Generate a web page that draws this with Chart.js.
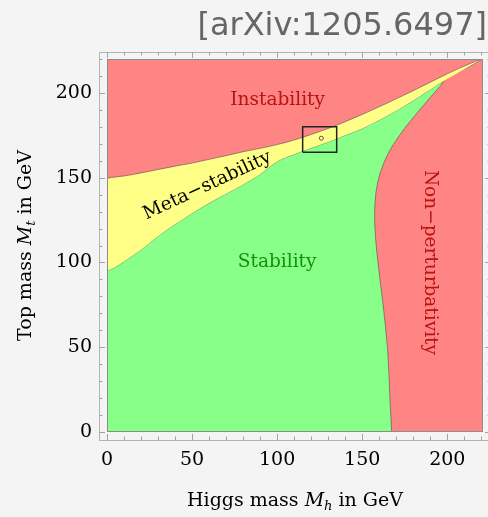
<!DOCTYPE html>
<html>
<head>
<meta charset="utf-8">
<script src="https://cdn.jsdelivr.net/npm/chart.js@4.4.1/dist/chart.umd.min.js"></script>
<style>
  body { margin: 0; background: #f4f4f4; }
  #wrap { width: 488px; height: 517px; position: relative; }
</style>
</head>
<body>
<div id="wrap"><canvas id="phase_chart"></canvas></div>
<script>
// Higgs mass grid shared by the two upper boundaries
var higgsMass = [0, 5, 10, 20, 30, 40, 50, 60, 70, 80, 90, 100, 110, 120, 130, 140, 150, 160, 170, 180, 190, 200, 205, 210, 215, 219, 221];
// instability / meta-stability boundary (top mass, GeV)
var topInstability = [149.7, 150.4, 151, 152.8, 154.8, 156.8, 158.6, 160.8, 163, 165.3, 167.3, 169.5, 172.2, 175.5, 179, 183, 187.3, 191.8, 196.5, 201.3, 206.3, 211.3, 213.6, 215.8, 218, 219.6, 220.3];
// meta-stability / stability boundary
var topStability = [95, 97.3, 100.5, 107.5, 115.5, 122.5, 129, 135, 140.5, 146, 152, 159.5, 163.8, 167.5, 171, 175, 179, 184, 189.5, 195.5, 202, 208.3, 211.2, 214, 216.9, 219.3, 220.3];

// non-perturbativity boundary, read as Higgs mass for a given top mass
var topNonPert = [0, 20, 48, 77.5, 107, 126.6, 146.7, 162.3, 175.1, 190, 203.7, 211.8, 214.2, 216.8, 220.3];
var higgsNonPert = [167.3, 166.3, 165, 162, 158.5, 157.3, 159, 164.3, 172, 183.8, 195.6, 203.2, 210, 215, 221];

// the experimental box and the measured point
var boxHiggs = [115, 135, 135, 115, 115];
var boxTop = [165, 165, 180, 180, 165];
var measuredHiggs = [126];
var measuredTop = [173.3];

var xTicks = [0, 50, 100, 150, 200];
var yTicks = [0, 50, 100, 150, 200];
var xMax = 221;
var yMax = 220;

var serif = '"DejaVu Serif", "Liberation Serif", serif';

function zipPoints(xs, ys) {
  var pts = [];
  for (var i = 0; i < xs.length; i++) {
    pts.push({x: xs[i], y: ys[i]});
  }
  return pts;
}

function drawParts(ctx, parts, x, y) {
  // parts centred on x, baseline y
  var total = 0;
  for (var i = 0; i < parts.length; i++) {
    ctx.font = parts[i].font;
    total += ctx.measureText(parts[i].text).width;
  }
  var cx = x - total / 2;
  ctx.textAlign = 'left';
  ctx.textBaseline = 'alphabetic';
  for (var j = 0; j < parts.length; j++) {
    ctx.font = parts[j].font;
    ctx.fillText(parts[j].text, cx, y + (parts[j].dy || 0));
    cx += ctx.measureText(parts[j].text).width;
  }
}

var decorPlugin = {
  id: 'decor',
  afterDatasetsDraw: function(chart) {
    var ctx = chart.ctx;
    var a = chart.chartArea;
    var xs = chart.scales.x;
    var ys = chart.scales.y;

    ctx.save();

    // region names
    var labels = [
      {text: 'Instability', x: 100.3, y: 196, rot: 0, color: '#b81414'},
      {text: 'Stability', x: 100, y: 100, rot: 0, color: '#0f920f'},
      {text: 'Meta\u2212stability', x: 59, y: 145.3, rot: -25, color: '#000'},
      {text: 'Non\u2212perturbativity', x: 189.7, y: 100, rot: 90, color: '#b81414'}
    ];
    ctx.font = '18.5px ' + serif;
    ctx.textAlign = 'center';
    ctx.textBaseline = 'middle';
    labels.forEach(function(l) {
      ctx.save();
      ctx.translate(xs.getPixelForValue(l.x), ys.getPixelForValue(l.y));
      ctx.rotate(l.rot * Math.PI / 180);
      ctx.fillStyle = l.color;
      ctx.fillText(l.text, 0, 0);
      ctx.restore();
    });

    // plot edge
    ctx.strokeStyle = '#8c8c8c';
    ctx.lineWidth = 1;
    ctx.strokeRect(a.left + 0.5, a.top + 0.5, a.width - 1, a.height - 1);

    // outer frame with ticks
    var fl = a.left - 8, ft = a.top - 7, fr = a.right + 8, fb = a.bottom + 8;
    ctx.strokeStyle = '#b4b4b4';
    ctx.strokeRect(fl + 0.5, ft + 0.5, fr - fl, fb - ft);
    ctx.strokeStyle = '#a2a2a2';
    ctx.beginPath();
    for (var v = 0; v <= 220; v += 10) {
      var len = v % 50 === 0 ? 6 : 3.5;
      var px = Math.round(xs.getPixelForValue(v)) + 0.5;
      ctx.moveTo(px, fb); ctx.lineTo(px, fb - len);
      ctx.moveTo(px, ft); ctx.lineTo(px, ft + len);
      var py = Math.round(ys.getPixelForValue(v)) + 0.5;
      ctx.moveTo(fl, py); ctx.lineTo(fl + len, py);
      ctx.moveTo(fr, py); ctx.lineTo(fr - len, py);
    }
    ctx.stroke();

    // axis titles
    ctx.fillStyle = '#000';
    drawParts(ctx, [
      {text: 'Higgs mass ', font: '19px ' + serif},
      {text: 'M', font: 'italic 19px ' + serif},
      {text: 'h', font: 'italic 13px ' + serif, dy: 4},
      {text: ' in GeV', font: '19px ' + serif}
    ], (a.left + a.right) / 2, 506);

    ctx.save();
    ctx.translate(31, (a.top + a.bottom) / 2);
    ctx.rotate(-Math.PI / 2);
    drawParts(ctx, [
      {text: 'Top mass ', font: '19px ' + serif},
      {text: 'M', font: 'italic 19px ' + serif},
      {text: 't', font: 'italic 13px ' + serif, dy: 4},
      {text: ' in GeV', font: '19px ' + serif}
    ], 0, 0);
    ctx.restore();

    // source tag
    ctx.font = '32px "DejaVu Sans", sans-serif';
    ctx.fillStyle = '#666';
    ctx.textAlign = 'right';
    ctx.textBaseline = 'alphabetic';
    ctx.fillText('[arXiv:1205.6497]', 487, 35);

    ctx.restore();
  }
};

function showPhaseChart() {
  var edge = 'rgba(70, 70, 70, 0.55)';

  var config = {
    type: 'line',
    data: {
      datasets: [{
          label: 'Stability',
          data: zipPoints(higgsMass, topStability),
          borderColor: edge,
          borderWidth: 1,
          backgroundColor: '#88ff88',
          fill: 'start',
          cubicInterpolationMode: 'monotone',
          pointRadius: 0,
          order: 5
        }, {
          label: 'Non-perturbativity',
          indexAxis: 'y',
          data: zipPoints(higgsNonPert, topNonPert),
          borderColor: edge,
          borderWidth: 1,
          backgroundColor: '#ff8484',
          fill: { target: { value: xMax } },
          cubicInterpolationMode: 'monotone',
          pointRadius: 0,
          order: 4
        }, {
          label: 'Meta-stability',
          data: zipPoints(higgsMass, topInstability),
          borderColor: 'rgba(0,0,0,0)',
          borderWidth: 0,
          backgroundColor: '#ffff88',
          fill: 0,
          cubicInterpolationMode: 'monotone',
          pointRadius: 0,
          order: 3
        }, {
          label: 'Instability',
          data: zipPoints(higgsMass, topInstability),
          borderColor: edge,
          borderWidth: 1,
          backgroundColor: '#ff8484',
          fill: 'end',
          cubicInterpolationMode: 'monotone',
          pointRadius: 0,
          order: 2
        }, {
          label: 'box',
          data: zipPoints(boxHiggs, boxTop),
          borderColor: '#222',
          borderWidth: 1.5,
          tension: 0,
          fill: false,
          pointRadius: 0,
          order: 1
        }, {
          label: 'measured',
          data: zipPoints(measuredHiggs, measuredTop),
          showLine: false,
          pointRadius: 2,
          pointBorderWidth: 1,
          pointBorderColor: '#555',
          pointBackgroundColor: 'rgba(0,0,0,0)',
          order: 0
        }]
    },
    options: {
      responsive: true,
      maintainAspectRatio: false,
      animation: false,
      layout: { padding: { top: 59, right: 5, left: 0, bottom: 0 } },
      plugins: {
        legend: { display: false },
        tooltip: { enabled: false },
        title: { display: false }
      },
      scales: {
        x: {
          type: 'linear',
          min: 0,
          max: xMax,
          grid: { display: false, drawTicks: false },
          border: { display: false },
          afterBuildTicks: function(s) { s.ticks = xTicks.map(function(v) { return {value: v}; }); },
          ticks: { padding: 17, color: '#000', font: { family: serif, size: 19 } },
          afterFit: function(s) { s.height = 85; }
        },
        y: {
          type: 'linear',
          min: 0,
          max: yMax,
          grid: { display: false, drawTicks: false },
          border: { display: false },
          afterBuildTicks: function(s) { s.ticks = yTicks.map(function(v) { return {value: v}; }); },
          ticks: { padding: 15, color: '#000', font: { family: serif, size: 19 } },
          afterFit: function(s) { s.width = 107; }
        }
      }
    },
    plugins: [decorPlugin]
  };

  new Chart(document.getElementById('phase_chart').getContext('2d'), config);
}

function load() {
  showPhaseChart();
}

document.addEventListener("DOMContentLoaded", load, false);
</script>
</body>
</html>
